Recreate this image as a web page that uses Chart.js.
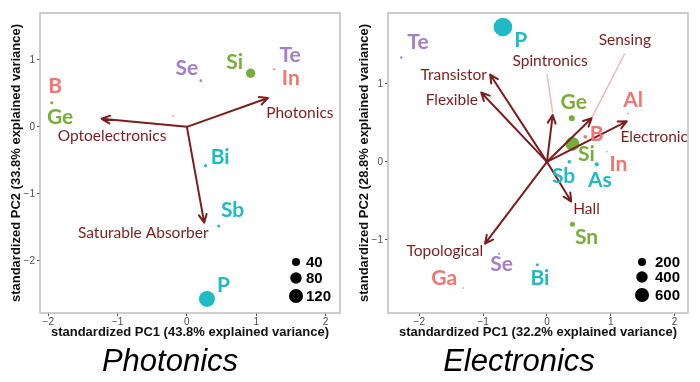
<!DOCTYPE html>
<html>
<head>
<meta charset="utf-8">
<script src="https://cdn.jsdelivr.net/npm/chart.js@4.4.0/dist/chart.umd.min.js"></script>
<style>
  html, body { margin: 0; padding: 0; background: #fff; }
  #wrap { position: relative; width: 700px; height: 382px; }
  .panel { position: absolute; top: 0; width: 350px; height: 382px; }
</style>
</head>
<body>
<div id="wrap">
  <div class="panel" style="left:0"><canvas id="chart-photonics" width="350" height="382"></canvas></div>
  <div class="panel" style="left:350px"><canvas id="chart-electronics" width="350" height="382"></canvas></div>
</div>
<script>
// colours per periodic group (13, 14, 15, 16)
const groupColors = { 13: '#F0766F', 14: '#77AE3A', 15: '#1FBAC3', 16: '#A67DC6' };
const arrowColor = '#7B1E1E';
const connColor = '#F3B7B7';

// ---- Photonics panel ----
const phoXRange = [-2.12, 2.21];
const phoYRange = [-2.78, 1.70];
const phoXTicks = [-2, -1, 0, 1, 2];
const phoYTicks = [-2, -1, 0, 1];

const phoX     = [-1.95, 0.20, 0.92, 1.26, -0.20, 0.27, 0.46, 0.29];
const phoY     = [0.36, 0.69, 0.80, 0.86, 0.16, -0.58, -1.48, -2.57];
const phoSize  = [6, 4, 54, 2.5, 1.5, 6, 6, 157];
const phoGroup = [14, 16, 14, 13, 13, 15, 15, 15];

const phoLabels      = ['B', 'Ge', 'Se', 'Si', 'Te', 'In', 'Bi', 'Sb', 'P'];
const phoLabelX      = [-1.90, -1.83, 0.00, 0.69, 1.49, 1.50, 0.48, 0.66, 0.53];
const phoLabelY      = [0.60, 0.15, 0.88, 0.97, 1.07, 0.72, -0.45, -1.25, -2.37];
const phoLabelGroup  = [13, 14, 16, 14, 16, 13, 15, 15, 15];

const phoArrows      = ['Optoelectronics', 'Photonics', 'Saturable Absorber'];
const phoArrowX      = [-1.23, 1.17, 0.25];
const phoArrowY      = [0.12, 0.43, -1.43];
const phoArrowLabelX = [-1.08, 1.63, -0.63];
const phoArrowLabelY = [-0.13, 0.21, -1.58];

const phoSizeBreaks = [40, 80, 120];

// ---- Electronics panel ----
const eleXRange = [-2.49, 2.21];
const eleYRange = [-1.94, 1.91];
const eleXTicks = [-2, -1, 0, 1, 2];
const eleYTicks = [-1, 0, 1];

const eleX     = [-2.28, -0.69, 0.39, 0.40, 0.60, 1.27, 0.94, 0.35, 0.78, 0.40, -0.75, -0.15, -1.31];
const eleY     = [1.34, 1.73, 0.56, 0.23, 0.32, 0.62, 0.13, 0.00, -0.03, -0.80, -1.18, -1.32, -1.62];
const eleSize  = [18, 1060, 110, 600, 40, 8, 8, 40, 49, 77, 12, 28, 8];
const eleGroup = [16, 15, 14, 14, 13, 13, 13, 15, 15, 14, 16, 15, 13];

const eleLabels     = ['Te', 'P', 'Ge', 'B', 'Si', 'Al', 'In', 'Sb', 'As', 'Sn', 'Se', 'Bi', 'Ga'];
const eleLabelX     = [-2.02, -0.41, 0.42, 0.78, 0.62, 1.35, 1.12, 0.26, 0.83, 0.62, -0.71, -0.11, -1.61];
const eleLabelY     = [1.54, 1.56, 0.77, 0.35, 0.10, 0.79, -0.03, -0.18, -0.23, -0.97, -1.32, -1.50, -1.49];
const eleLabelGroup = [16, 15, 14, 13, 14, 13, 13, 15, 15, 14, 16, 15, 13];

const eleArrows      = ['Transistor', 'Flexible', 'Spintronics', 'Sensing', 'Electronic', 'Hall', 'Topological'];
const eleArrowX      = [-0.89, -1.03, 0.09, 0.70, 1.25, 0.38, -0.97];
const eleArrowY      = [1.12, 0.89, 0.60, 0.56, 0.52, -0.51, -1.05];
const eleArrowLabelX = [-1.46, -1.49, 0.05, 1.22, 1.68, 0.62, -1.60];
const eleArrowLabelY = [1.12, 0.79, 1.29, 1.56, 0.32, -0.61, -1.14];
// light connectors from label to arrow tip (Spintronics, Sensing)
const eleConnFromX = [0.00, 1.22];
const eleConnFromY = [1.13, 1.39];
const eleConnToX   = [0.09, 0.70];
const eleConnToY   = [0.63, 0.56];

const eleSizeBreaks = [200, 400, 600];

function fmtTick(v) {
    return v < 0 ? '\u2212' + Math.abs(v) : String(v);
}

function makeChart(canvasId, p) {
    const radius = s => p.maxR * Math.sqrt(s / p.sizeBreaks[p.sizeBreaks.length - 1]);

    const overlay = {
        id: 'overlay-' + canvasId,
        afterDatasetsDraw(chart) {
            const ctx = chart.ctx;
            const xs = chart.scales.x, ys = chart.scales.y;
            const px = v => xs.getPixelForValue(v);
            const py = v => ys.getPixelForValue(v);
            const area = chart.chartArea;
            ctx.save();

            // light connectors
            (p.connFromX || []).forEach((fx, i) => {
                ctx.strokeStyle = connColor;
                ctx.lineWidth = 1.5;
                ctx.beginPath();
                ctx.moveTo(px(fx), py(p.connFromY[i]));
                ctx.lineTo(px(p.connToX[i]), py(p.connToY[i]));
                ctx.stroke();
            });

            // loading arrows
            ctx.strokeStyle = arrowColor;
            ctx.lineWidth = 2;
            ctx.lineCap = 'round';
            ctx.lineJoin = 'round';
            const ox = px(0), oy = py(0);
            p.arrowX.forEach((ax, i) => {
                const tx = px(ax), ty = py(p.arrowY[i]);
                const ang = Math.atan2(ty - oy, tx - ox);
                const h = 9, spread = 0.45;
                ctx.beginPath();
                ctx.moveTo(ox, oy);
                ctx.lineTo(tx, ty);
                ctx.moveTo(tx - h * Math.cos(ang - spread), ty - h * Math.sin(ang - spread));
                ctx.lineTo(tx, ty);
                ctx.lineTo(tx - h * Math.cos(ang + spread), ty - h * Math.sin(ang + spread));
                ctx.stroke();
            });

            ctx.textAlign = 'center';
            ctx.textBaseline = 'middle';
            ctx.fillStyle = arrowColor;
            ctx.font = '15.5px Lato';
            p.arrows.forEach((name, i) => {
                ctx.fillText(name, px(p.arrowLabelX[i]), py(p.arrowLabelY[i]));
            });

            // element labels
            ctx.font = 'bold 21px Lato';
            p.labels.forEach((name, i) => {
                ctx.fillStyle = groupColors[p.labelGroup[i]];
                ctx.fillText(name, px(p.labelX[i]), py(p.labelY[i]));
            });

            // size key
            ctx.textAlign = 'left';
            ctx.font = 'bold 15px "Liberation Sans", Arial, sans-serif';
            p.sizeBreaks.forEach((s, i) => {
                const cy = area.bottom - p.keyY[i];
                ctx.fillStyle = '#000';
                ctx.beginPath();
                ctx.arc(area.right - p.keyDX, cy, radius(s), 0, Math.PI * 2);
                ctx.fill();
                ctx.fillText(String(s), area.right - p.keyTX, cy + 1);
            });
            ctx.restore();
        },
        afterDraw(chart) {
            const a = chart.chartArea, ctx = chart.ctx;
            ctx.save();
            ctx.strokeStyle = '#BDBDBD';
            ctx.lineWidth = 1.5;
            ctx.strokeRect(a.left, a.top, a.right - a.left, a.bottom - a.top);
            ctx.restore();
        }
    };

    const tickFont = { family: '"Liberation Sans", Arial, sans-serif', size: 10 };
    const titleFont = { family: '"Liberation Sans", Arial, sans-serif', size: 13, weight: 'bold' };

    return new Chart(document.getElementById(canvasId), {
        type: 'bubble',
        data: {
            datasets: [{
                data: p.x.map((v, i) => ({ x: v, y: p.y[i], r: radius(p.size[i]) })),
                backgroundColor: p.group.map(g => groupColors[g]),
                borderWidth: 0,
                hoverRadius: 0
            }]
        },
        options: {
            responsive: false,
            animation: false,
            layout: { padding: { top: 13, right: p.padRight, left: 0, bottom: 0 } },
            plugins: {
                legend: { display: false },
                tooltip: { enabled: false },
                title: {
                    display: true,
                    position: 'bottom',
                    text: p.title,
                    color: '#000',
                    font: { family: '"Liberation Sans", Arial, sans-serif', size: 31, style: 'italic', weight: 'normal', lineHeight: 1.2 },
                    padding: { top: 0.8, bottom: 1 }
                }
            },
            scales: {
                x: {
                    type: 'linear',
                    min: p.xRange[0],
                    max: p.xRange[1],
                    afterBuildTicks: s => { s.ticks = p.xTicks.map(v => ({ value: v })); },
                    afterFit: s => { s.height = 30; },
                    ticks: { font: tickFont, color: '#4D4D4D', padding: 0, callback: fmtTick, maxRotation: 0 },
                    grid: { drawOnChartArea: false, drawTicks: true, tickLength: 3, color: '#555' },
                    border: { display: false },
                    title: { display: true, text: p.xTitle, color: '#111', font: titleFont, padding: { top: 0, bottom: 3 } }
                },
                y: {
                    type: 'linear',
                    min: p.yRange[0],
                    max: p.yRange[1],
                    afterBuildTicks: s => { s.ticks = p.yTicks.map(v => ({ value: v })); },
                    afterFit: s => { s.width = p.yWidth; },
                    ticks: { font: tickFont, color: '#4D4D4D', padding: 2, callback: fmtTick },
                    grid: { drawOnChartArea: false, drawTicks: true, tickLength: 3, color: '#555' },
                    border: { display: false },
                    title: { display: true, text: p.yTitle, color: '#111', font: titleFont, padding: { top: p.yTitlePad, bottom: 0 } }
                }
            }
        },
        plugins: [overlay]
    });
}

makeChart('chart-photonics', {
    title: 'Photonics',
    xTitle: 'standardized PC1 (43.8% explained variance)',
    yTitle: 'standardized PC2 (33.8% explained variance)',
    xRange: phoXRange, yRange: phoYRange, xTicks: phoXTicks, yTicks: phoYTicks,
    yWidth: 40, padRight: 10, yTitlePad: 9,
    x: phoX, y: phoY, size: phoSize, group: phoGroup,
    labels: phoLabels, labelX: phoLabelX, labelY: phoLabelY, labelGroup: phoLabelGroup,
    arrows: phoArrows, arrowX: phoArrowX, arrowY: phoArrowY,
    arrowLabelX: phoArrowLabelX, arrowLabelY: phoArrowLabelY,
    sizeBreaks: phoSizeBreaks, maxR: 7, keyY: [51, 35, 17], keyDX: 44, keyTX: 34
});

makeChart('chart-electronics', {
    title: 'Electronics',
    xTitle: 'standardized PC1 (32.2% explained variance)',
    yTitle: 'standardized PC2 (28.8% explained variance)',
    xRange: eleXRange, yRange: eleYRange, xTicks: eleXTicks, yTicks: eleYTicks,
    yWidth: 38, padRight: 12, yTitlePad: 7,
    x: eleX, y: eleY, size: eleSize, group: eleGroup,
    labels: eleLabels, labelX: eleLabelX, labelY: eleLabelY, labelGroup: eleLabelGroup,
    arrows: eleArrows, arrowX: eleArrowX, arrowY: eleArrowY,
    arrowLabelX: eleArrowLabelX, arrowLabelY: eleArrowLabelY,
    connFromX: eleConnFromX, connFromY: eleConnFromY, connToX: eleConnToX, connToY: eleConnToY,
    sizeBreaks: eleSizeBreaks, maxR: 7, keyY: [51, 36, 18], keyDX: 46, keyTX: 33
});
</script>
</body>
</html>
